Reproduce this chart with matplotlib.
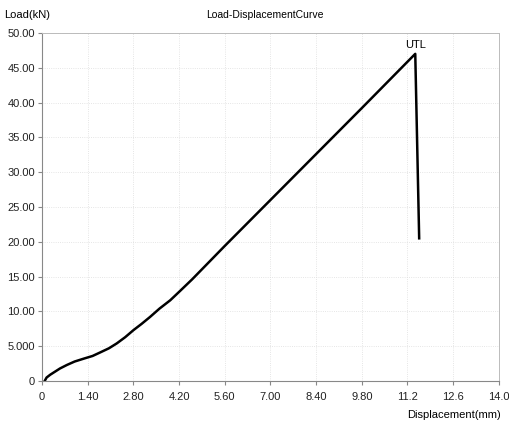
import matplotlib.pyplot as plt

# displacement (mm) and load (kN)
displacement = [0.08, 0.14, 0.25, 0.35, 0.55, 0.76, 1.0, 1.27, 1.55, 1.78, 2.05, 2.29, 2.55,
                2.80, 3.05, 3.31, 3.60, 3.93, 4.20, 4.60, 5.60, 7.00, 8.40, 9.80, 11.44, 11.56]
load = [0.0, 0.5, 0.9, 1.2, 1.8, 2.3, 2.8, 3.2, 3.6, 4.1, 4.7, 5.4, 6.3,
        7.3, 8.2, 9.2, 10.4, 11.6, 12.8, 14.6, 19.4, 26.0, 32.6, 39.2, 47.0, 20.5]

x_ticks = [0, 1.4, 2.8, 4.2, 5.6, 7.0, 8.4, 9.8, 11.2, 12.6, 14.0]
x_labels = ["0", "1.40", "2.80", "4.20", "5.60", "7.00", "8.40", "9.80", "11.2", "12.6", "14.0"]
y_ticks = [0, 5, 10, 15, 20, 25, 30, 35, 40, 45, 50]
y_labels = ["0", "5.000", "10.00", "15.00", "20.00", "25.00", "30.00", "35.00", "40.00", "45.00", "50.00"]

plt.rcParams["font.family"] = ["Liberation Sans", "DejaVu Sans"]

fig = plt.figure(figsize=(5.1, 4.26), dpi=100)
ax = fig.add_axes([0.0824, 0.1056, 0.8956, 0.817])

ax.plot(displacement, load, color="black", lw=1.8)
ax.text(11.44, 47.6, "UTL", ha="center", va="bottom", fontsize=8)

ax.set_xlim(0, 14)
ax.set_ylim(0, 50)
ax.set_xticks(x_ticks)
ax.set_xticklabels(x_labels)
ax.set_yticks(y_ticks)
ax.set_yticklabels(y_labels)
ax.tick_params(labelsize=8, length=3, color="#888888", colors="#222222")
ax.tick_params(axis="x", pad=5)
ax.tick_params(axis="y", pad=2)
ax.grid(True, color="#dddddd", ls=":", lw=0.6)

for s in ["left", "bottom"]:
    ax.spines[s].set_color("#888888")
for s in ["top", "right"]:
    ax.spines[s].set_color("#bbbbbb")
    ax.spines[s].set_linewidth(0.7)

fig.text(0.52, 0.965, "Load-DisplacementCurve", ha="center", va="center", fontsize=7.5)
fig.text(0.008, 0.965, "Load(kN)", ha="left", va="center", fontsize=8)
fig.text(0.982, 0.025, "Displacement(mm)", ha="right", va="center", fontsize=8)

fig.savefig("out.png", dpi=100)
